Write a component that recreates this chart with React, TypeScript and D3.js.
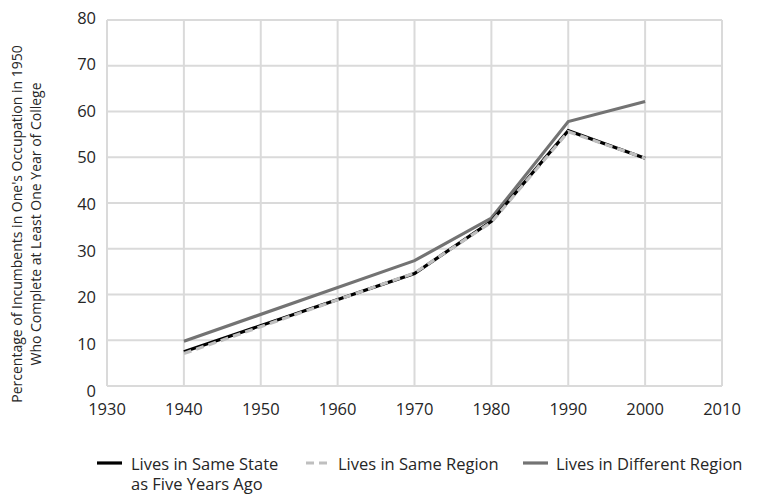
import React from "react";
import * as d3 from "d3";

const years = [1940, 1970, 1980, 1990, 2000];
const sameState = [7.5, 24.6, 36.0, 55.8, 49.8];
const sameRegion = [7.1, 24.7, 35.8, 55.6, 49.8];
const diffRegion = [9.8, 27.4, 36.7, 57.8, 62.2];
const xTicks = [1930, 1940, 1950, 1960, 1970, 1980, 1990, 2000, 2010];
const yTicks = [0, 10, 20, 30, 40, 50, 60, 70, 80];
const seriesNames = ["Lives in Same State|as Five Years Ago", "Lives in Same Region", "Lives in Different Region"];

const W = 764, H = 498;
const FONT = "'Open Sans', 'Noto Sans', sans-serif";

export default function App() {
  const x = d3.scaleLinear().domain([1930, 2010]).range([107, 722]);
  const y = d3.scaleLinear().domain([0, 80]).range([386, 20]);
  const yLab = d3.scaleLinear().domain([0, 80]).range([390, 17]);
  const line = d3.line<[number, number]>().x(d => x(d[0])).y(d => y(d[1]));
  const mk = (vals: number[]) => line(years.map((yr, i) => [yr, vals[i]] as [number, number])) || "";
  const grid = "#dadada";
  return (
    <svg width={W} height={H} style={{ position: "absolute", left: 0, top: 0, background: "#fff" }}>
      {xTicks.map(t => (
        <line key={"gx" + t} x1={x(t)} x2={x(t)} y1={y(80)} y2={y(0)} stroke={grid} strokeWidth={2} />
      ))}
      {yTicks.map(t => (
        <line key={"gy" + t} x1={x(1930)} x2={x(2010)} y1={y(t)} y2={y(t)} stroke={grid} strokeWidth={2} />
      ))}
      {yTicks.map(t => (
        <text key={"ly" + t} x={96} y={yLab(t)} textAnchor="end" dominantBaseline="central" fontFamily={FONT} fontSize={16.5} fill="#262626">{t}</text>
      ))}
      {xTicks.map(t => (
        <text key={"lx" + t} x={x(t)} y={408} textAnchor="middle" dominantBaseline="central" fontFamily={FONT} fontSize={16.5} fill="#262626">{t}</text>
      ))}
      <g transform="translate(0,224) rotate(-90)" fontFamily={FONT} fontSize={14} fill="#262626" textAnchor="middle">
        <text x={0} y={22}>Percentage of Incumbents in One's Occupation in 1950</text>
        <text x={0} y={41}>Who Complete at Least One Year of College</text>
      </g>
      <path d={mk(diffRegion)} fill="none" stroke="#737373" strokeWidth={3.2} />
      <path d={mk(sameState)} fill="none" stroke="#000" strokeWidth={3.2} />
      <path d={mk(sameRegion)} fill="none" stroke="#bfbfbf" strokeWidth={3.2} strokeDasharray="8,5" />
      <g fontFamily={FONT} fontSize={16.5} fill="#262626">
        <line x1={97} x2={122} y1={463} y2={463} stroke="#000" strokeWidth={3.2} />
        <text x={131} y={463} dominantBaseline="central">{seriesNames[0].split("|")[0]}</text>
        <text x={131} y={483} dominantBaseline="central">{seriesNames[0].split("|")[1]}</text>
        <line x1={306} x2={331} y1={463} y2={463} stroke="#bfbfbf" strokeWidth={3.2} strokeDasharray="8,5" />
        <text x={338} y={463} dominantBaseline="central">{seriesNames[1]}</text>
        <line x1={523} x2={548} y1={463} y2={463} stroke="#737373" strokeWidth={3.2} />
        <text x={556} y={463} dominantBaseline="central">{seriesNames[2]}</text>
      </g>
    </svg>
  );
}
